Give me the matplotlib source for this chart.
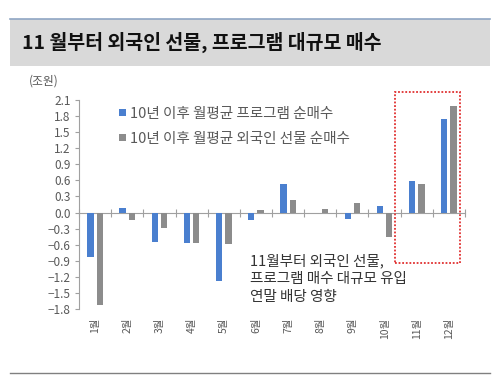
import matplotlib
matplotlib.use("Agg")
import matplotlib.pyplot as plt
import numpy as np
from matplotlib.patches import Rectangle

plt.rcParams["font.family"] = ["Noto Sans CJK KR", "DejaVu Sans"]
plt.rcParams["axes.unicode_minus"] = True

months = ["1월", "2월", "3월", "4월", "5월", "6월", "7월", "8월", "9월", "10월", "11월", "12월"]
program = [-0.82, 0.08, -0.55, -0.56, -1.28, -0.14, 0.53, 0.0, -0.12, 0.12, 0.58, 1.75]
foreign = [-1.72, -0.14, -0.28, -0.56, -0.58, 0.04, 0.24, 0.06, 0.17, -0.45, 0.54, 1.98]
series_names = ["10년 이후 월평균 프로그램 순매수", "10년 이후 월평균 외국인 선물 순매수"]
yticks = [2.1, 1.8, 1.5, 1.2, 0.9, 0.6, 0.3, 0.0, -0.3, -0.6, -0.9, -1.2, -1.5, -1.8]
title = "11 월부터 외국인 선물, 프로그램 대규모 매수"
note = "11월부터 외국인 선물,\n프로그램 매수 대규모 유입\n연말 배당 영향"
unit = "(조원)"
highlight = ["11월", "12월"]

BLUE = "#4a7fcf"
GRAY = "#8c8c8c"
TXT = "#595959"

fig = plt.figure(figsize=(5.0, 3.84), dpi=100)

# title band
fig.patches.append(Rectangle((0.02, 0.828), 0.96, 0.122, transform=fig.transFigure,
                             facecolor="#d9d9d9", edgecolor="none"))
fig.lines.append(plt.Line2D([0.02, 0.98], [0.951, 0.951], transform=fig.transFigure,
                            color="#8fa6c4", lw=1.2))
fig.text(0.044, 0.889, title, fontsize=14, fontweight="bold", color="#111111", va="center")
fig.lines.append(plt.Line2D([0.02, 0.98], [0.028, 0.028], transform=fig.transFigure,
                            color="#808080", lw=1.0))

ax = fig.add_axes([0.158, 0.195, 0.772, 0.545])
x = np.arange(len(months))
w = 0.2
ax.bar(x - 0.145, program, width=w, color=BLUE, label=series_names[0], zorder=3)
ax.bar(x + 0.145, foreign, width=w, color=GRAY, label=series_names[1], zorder=3)

ymin, ymax = min(yticks), max(yticks)
ax.set_ylim(ymin, ymax)
ax.set_xlim(-0.5, len(months) - 0.5)
ax.set_yticks(yticks)
ax.set_yticklabels([f"{v:.1f}".replace("-", "\u2212") for v in yticks], fontsize=8.5, color=TXT)
ax.tick_params(axis="y", length=3, color="#a0a0a0", pad=3)

ax.set_xticks(x)
ax.set_xticklabels(months, rotation=90, fontsize=7.5, color=TXT)
ax.tick_params(axis="x", length=0, pad=6)

for s in ["top", "right", "bottom"]:
    ax.spines[s].set_visible(False)
ax.spines["left"].set_color("#a0a0a0")

# zero line with boundary ticks
zero_loc = (0 - ymin) / (ymax - ymin)
sec = ax.secondary_xaxis(zero_loc)
sec.set_xticks(np.arange(len(months) + 1) - 0.5)
sec.set_xticklabels([])
sec.tick_params(axis="x", direction="inout", length=6, color="#a0a0a0")
sec.spines["bottom"].set_color("#a0a0a0")

fig.text(0.058, 0.79, unit, fontsize=8.5, color=TXT, va="center")

leg = ax.legend(loc="upper left", bbox_to_anchor=(0.07, 1.03), frameon=False,
                fontsize=10.5, handlelength=0.45, handleheight=0.45, handletextpad=0.3,
                labelspacing=0.75, labelcolor=TXT)

# highlight box around Nov-Dec
i0 = months.index(highlight[0])
i1 = months.index(highlight[-1])
ax.add_patch(Rectangle((i0 - 0.67, -0.94), (i1 - i0) + 1.02, 3.19, fill=False,
                       edgecolor="#e03030", lw=1.3, linestyle=(0, (1, 1)),
                       clip_on=False, zorder=4))

ax.text(4.82, -1.23, note, fontsize=10.5, color="#333333", va="center", ha="left",
        linespacing=1.35)

fig.savefig("out.png", dpi=100)
